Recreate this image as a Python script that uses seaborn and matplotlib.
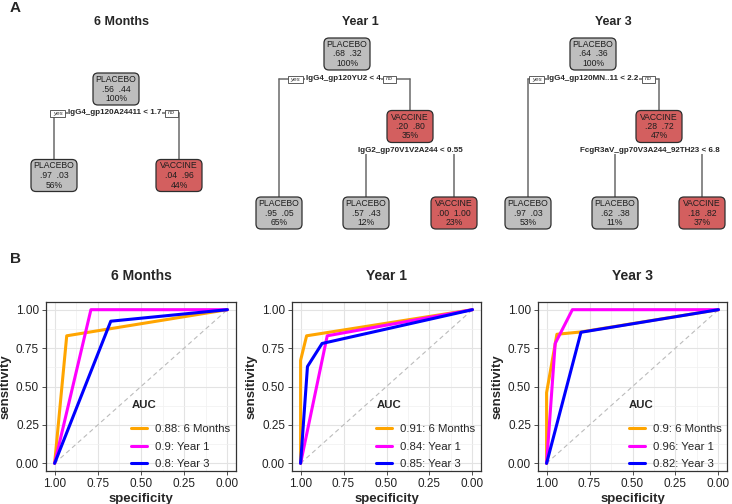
import numpy as np
import pandas as pd
import matplotlib
matplotlib.use("Agg")
import matplotlib.pyplot as plt
import seaborn as sns
from matplotlib.patches import FancyBboxPatch, Rectangle
from matplotlib.ticker import FormatStrFormatter, MultipleLocator

# ---------------- data : decision trees ----------------
TREE_TITLES = ["6 Months", "Year 1", "Year 3"]

NODE_CLASS_6M = ["PLACEBO", "PLACEBO", "VACCINE"]
NODE_PROB_6M = [(".56", ".44"), (".97", ".03"), (".04", ".96")]
NODE_PCT_6M = ["100%", "56%", "44%"]
SPLIT_6M = ["IgG4_gp120A24411 < 1.7"]

NODE_CLASS_Y1 = ["PLACEBO", "PLACEBO", "VACCINE", "PLACEBO", "VACCINE"]
NODE_PROB_Y1 = [(".68", ".32"), (".95", ".05"), (".20", ".80"), (".57", ".43"), (".00", "1.00")]
NODE_PCT_Y1 = ["100%", "65%", "35%", "12%", "23%"]
SPLIT_Y1 = ["IgG4_gp120YU2 < 4", "IgG2_gp70V1V2A244 < 0.55"]

NODE_CLASS_Y3 = ["PLACEBO", "PLACEBO", "VACCINE", "PLACEBO", "VACCINE"]
NODE_PROB_Y3 = [(".64", ".36"), (".97", ".03"), (".28", ".72"), (".62", ".38"), (".18", ".82")]
NODE_PCT_Y3 = ["100%", "53%", "47%", "11%", "37%"]
SPLIT_Y3 = ["IgG4_gp120MN..11 < 2.2", "FcgR3aV_gp70V3A244_92TH23 < 6.8"]

# ---------------- data : ROC curves ----------------
ROC_TITLES = ["6 Months", "Year 1", "Year 3"]
MODELS = ["6 Months", "Year 1", "Year 3"]
AUC = [[0.88, 0.9, 0.8], [0.91, 0.84, 0.85], [0.9, 0.96, 0.82]]

SPEC_6M = [[1.0, 0.93, 0.0], [1.0, 0.79, 0.0], [1.0, 0.675, 0.0]]
SENS_6M = [[0.0, 0.83, 1.0], [0.0, 1.0, 1.0], [0.0, 0.925, 1.0]]

SPEC_Y1 = [[1.0, 1.0, 0.965, 0.0], [1.0, 0.845, 0.0], [1.0, 0.96, 0.875, 0.0]]
SENS_Y1 = [[0.0, 0.67, 0.83, 1.0], [0.0, 0.83, 1.0], [0.0, 0.63, 0.78, 1.0]]

SPEC_Y3 = [[1.0, 1.0, 0.94, 0.80, 0.0], [1.0, 0.95, 0.85, 0.0], [1.0, 0.80, 0.0]]
SENS_Y3 = [[0.0, 0.46, 0.84, 0.855, 1.0], [0.0, 0.78, 1.0, 1.0], [0.0, 0.853, 1.0]]

CHANCE_SPEC = [1.0, 0.0]
CHANCE_SENS = [0.0, 1.0]

# ---------------- layout / style ----------------
W, H = 732, 504
NODE_W, NODE_H = 46, 32
FILL = {"PLACEBO": "#BEBEBE", "VACCINE": "#D35F5F"}
LINE_COLORS = ["#FFA500", "#FF00FF", "#0000FF"]

TREE_LAYOUT = [
    {"nodes": [(116, 89), (54, 175.5), (179, 175.5)],
     "splits": [(0, 1, 2, 113, 115, True)], "title_x": 121},
    {"nodes": [(347, 54), (279, 213), (410, 126.5), (366, 213), (454, 213)],
     "splits": [(0, 1, 2, 79, 343, True), (2, 3, 4, 150, 410, False)], "title_x": 360},
    {"nodes": [(593, 54), (528, 213), (659, 126.5), (615, 213), (702, 213)],
     "splits": [(0, 1, 2, 79, 593, True), (2, 3, 4, 150, 650, False)], "title_x": 613},
]
ROC_AXES = [(46, 302, 190, 169), (292, 302, 189, 169), (538, 302, 189, 169)]

sns.set_theme(style="white")
plt.rcParams["font.family"] = ["Liberation Sans", "DejaVu Sans"]

fig = plt.figure(figsize=(W / 100, H / 100), dpi=100)
over = fig.add_axes([0, 0, 1, 1])
over.set_xlim(0, W)
over.set_ylim(H, 0)
over.axis("off")
over.patch.set_visible(False)

over.text(10, 8, "A", fontsize=11, fontweight="bold", va="center", ha="left")
over.text(10, 259, "B", fontsize=11, fontweight="bold", va="center", ha="left")

renderer = fig.canvas.get_renderer()


def draw_tree(layout, title, classes, probs, pcts, splits):
    nodes = layout["nodes"]
    over.text(layout["title_x"], 22, title, fontsize=9, fontweight="bold",
              ha="center", va="center")
    # connectors + split labels
    for (p, l, r, sy, lx, yesno), lab in zip(layout["splits"], splits):
        xl, xr = nodes[l][0], nodes[r][0]
        over.plot([xl, xr], [sy, sy], color="#6A6A6A", lw=1.1, zorder=1)
        for c in (l, r):
            over.plot([nodes[c][0], nodes[c][0]], [sy, nodes[c][1] - NODE_H / 2],
                      color="#6A6A6A", lw=1.1, zorder=1)
        t = over.text(lx, sy, lab, fontsize=5.8, fontweight="bold", ha="center",
                      va="center", zorder=3,
                      bbox=dict(facecolor="white", edgecolor="none", pad=0.6))
        if yesno:
            ext = t.get_window_extent(renderer)
            x0 = ext.x0 * W / fig.bbox.width
            x1 = ext.x1 * W / fig.bbox.width
            for txt, bx in (("yes", x0 - 3 - 15), ("no", x1 + 3)):
                over.add_patch(Rectangle((bx, sy - 3.5), 15 if txt == "yes" else 13, 7,
                                         facecolor="white", edgecolor="#444444",
                                         lw=0.6, zorder=3))
                over.text(bx + (7.5 if txt == "yes" else 6.5), sy, txt, fontsize=4.5,
                          style="italic", ha="center", va="center", zorder=4,
                          color="#333333")
    # nodes
    for (cx, cy), cls, pr, pc in zip(nodes, classes, probs, pcts):
        over.add_patch(FancyBboxPatch((cx - NODE_W / 2, cy - NODE_H / 2), NODE_W, NODE_H,
                                      boxstyle="round,pad=0,rounding_size=5",
                                      facecolor=FILL[cls], edgecolor="#2E2E2E",
                                      lw=0.9, zorder=2))
        over.text(cx, cy - 9.5, cls, fontsize=6.2, ha="center", va="center",
                  color="#1E1E1E", zorder=3)
        over.text(cx, cy, f"{pr[0]}  {pr[1]}", fontsize=6.2, ha="center",
                  va="center", color="#1E1E1E", zorder=3)
        over.text(cx, cy + 9.5, pc, fontsize=6.2, ha="center", va="center",
                  color="#1E1E1E", zorder=3)


draw_tree(TREE_LAYOUT[0], TREE_TITLES[0], NODE_CLASS_6M, NODE_PROB_6M, NODE_PCT_6M, SPLIT_6M)
draw_tree(TREE_LAYOUT[1], TREE_TITLES[1], NODE_CLASS_Y1, NODE_PROB_Y1, NODE_PCT_Y1, SPLIT_Y1)
draw_tree(TREE_LAYOUT[2], TREE_TITLES[2], NODE_CLASS_Y3, NODE_PROB_Y3, NODE_PCT_Y3, SPLIT_Y3)


def roc_frame(specs, senss, aucs):
    rows = []
    for m, sp, se, a in zip(MODELS, specs, senss, aucs):
        lab = f"{a:g}: {m}"
        for i, (x, y) in enumerate(zip(sp, se)):
            rows.append({"specificity": x, "sensitivity": y, "AUC": lab, "step": i})
    return pd.DataFrame(rows)


roc_specs = [SPEC_6M, SPEC_Y1, SPEC_Y3]
roc_senss = [SENS_6M, SENS_Y1, SENS_Y3]

for k in range(3):
    lx, ty, w, h = ROC_AXES[k]
    ax = fig.add_axes([lx / W, (H - ty - h) / H, w / W, h / H])
    df = roc_frame(roc_specs[k], roc_senss[k], AUC[k])
    labels = list(dict.fromkeys(df["AUC"]))

    ax.set_xlim(1.05, -0.05)
    ax.set_ylim(-0.05, 1.05)
    ax.xaxis.set_major_locator(MultipleLocator(0.25))
    ax.yaxis.set_major_locator(MultipleLocator(0.25))
    ax.xaxis.set_minor_locator(MultipleLocator(0.125))
    ax.yaxis.set_minor_locator(MultipleLocator(0.125))
    ax.xaxis.set_major_formatter(FormatStrFormatter("%.2f"))
    ax.yaxis.set_major_formatter(FormatStrFormatter("%.2f"))
    ax.grid(which="major", color="#E3E3E3", lw=0.8)
    ax.grid(which="minor", color="#F0F0F0", lw=0.5)
    ax.set_axisbelow(True)

    ax.plot(CHANCE_SPEC, CHANCE_SENS, color="#BBBBBB", lw=0.8, ls=(0, (4, 3)), zorder=1)
    sns.lineplot(data=df, x="specificity", y="sensitivity", hue="AUC",
                 hue_order=labels, palette=LINE_COLORS, sort=False,
                 estimator=None, units="AUC", lw=2.2, ax=ax)

    handles, labs = ax.get_legend_handles_labels()
    leg = ax.legend(handles, labs, title="AUC", loc="lower right",
                    bbox_to_anchor=(0.97, 0.01), frameon=False, fontsize=8.2,
                    title_fontproperties={"weight": "bold", "size": 8.2},
                    handlelength=1.4, handletextpad=0.7, labelspacing=0.68,
                    borderpad=0, borderaxespad=0)
    leg._legend_box.align = "left"
    leg._legend_box.sep = 10

    for s in ax.spines.values():
        s.set_color("#333333")
        s.set_linewidth(0.9)
    ax.tick_params(which="major", direction="out", length=3, width=0.6,
                   color="#333333", labelsize=8.5, labelcolor="#222222", pad=2)
    ax.tick_params(which="minor", length=0)
    ax.tick_params(axis="both", bottom=True, left=True)
    ax.set_xlabel("specificity", fontsize=9.5, fontweight="bold", labelpad=2)
    ax.set_ylabel("sensitivity", fontsize=9.5, fontweight="bold", labelpad=3)

    fig.text((lx + w / 2) / W, 1 - 276 / H, ROC_TITLES[k], fontsize=10,
             fontweight="bold", ha="center", va="center")

fig.savefig("out.png", dpi=100)
